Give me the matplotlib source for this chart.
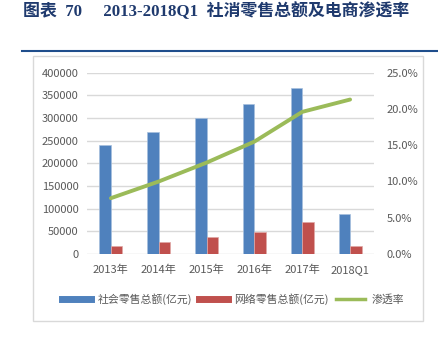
import numpy as np
import matplotlib
matplotlib.use("Agg")
import matplotlib.pyplot as plt
from matplotlib.lines import Line2D
from matplotlib.patches import Rectangle

plt.rcParams['font.family'] = ['Noto Sans CJK SC', 'DejaVu Sans']

categories = ['2013年', '2014年', '2015年', '2016年', '2017年', '2018Q1']
retail_total = [240500, 269800, 299300, 331000, 366200, 88200]
online_retail = [17600, 27200, 38200, 48500, 70600, 17600]
penetration = [0.077, 0.100, 0.126, 0.155, 0.196, 0.213]
left_ticks = [0, 50000, 100000, 150000, 200000, 250000, 300000, 350000, 400000]
right_ticks = [0.0, 0.05, 0.10, 0.15, 0.20, 0.25]
legend_labels = ['社会零售总额(亿元)', '网络零售总额(亿元)', '渗透率']
title_text = '图表  70     2013-2018Q1  社消零售总额及电商渗透率'

BLUE = '#4F81BD'
RED = '#C0504D'
GREEN = '#9BBB59'
GREY_TXT = '#595959'
GRID = '#D9D9D9'
TITLE_C = '#1F3A6E'

W, H = 438, 353
fig = plt.figure(figsize=(W / 100, H / 100), dpi=100)

# outer chart box
fig.patches.append(Rectangle((32.7 / W, 1 - 320.7 / H), 390.6 / W, 264.7 / H,
                             transform=fig.transFigure, fill=False,
                             edgecolor=GRID, linewidth=1.0))
# title rule
fig.add_artist(Line2D([22 / W, 437 / W], [1 - 50.7 / H, 1 - 50.7 / H],
                      transform=fig.transFigure, color='#1F4E8C', linewidth=1.5))
fig.text(23 / W, 1 - 11 / H, title_text, fontsize=12.2, fontweight='bold',
         color=TITLE_C, va='center', ha='left',
         family=['Liberation Serif', 'Noto Sans CJK SC'])

ax = fig.add_axes([87 / W, 1 - 254 / H, (374 - 87) / W, (254 - 72.7) / H])
x = np.arange(len(categories))
bw = 0.24
ax.bar(x - bw / 2, retail_total, width=bw, color=BLUE, edgecolor='#A7C0DE',
       linewidth=0.5, zorder=3)
ax.bar(x + bw / 2, online_retail, width=bw, color=RED, edgecolor='#E0A8A6',
       linewidth=0.5, zorder=3)
ax.set_xlim(-0.5, len(categories) - 0.5)
ax.set_ylim(0, 400000)
ax.set_yticks(left_ticks)
ax.set_yticklabels([str(v) for v in left_ticks])
ax.set_xticks(x)
ax.set_xticklabels(categories)
ax.grid(axis='y', color=GRID, linewidth=1.0, zorder=0)
ax.set_axisbelow(True)
for s in ax.spines.values():
    s.set_visible(False)
ax.tick_params(axis='both', length=0, colors=GREY_TXT, labelsize=8)
ax.tick_params(axis='y', pad=6)
ax.tick_params(axis='x', pad=8)

ax2 = ax.twinx()
ax2.plot(x, penetration, color=GREEN, linewidth=2.8, solid_capstyle='round', zorder=4)
ax2.set_ylim(0, 0.25)
ax2.set_yticks(right_ticks)
ax2.set_yticklabels([f'{v * 100:.1f}%' for v in right_ticks])
for s in ax2.spines.values():
    s.set_visible(False)
ax2.tick_params(axis='y', length=0, colors=GREY_TXT, labelsize=8, pad=9)

handles = [Line2D([], [], color=BLUE, linewidth=5),
           Line2D([], [], color=RED, linewidth=5),
           Line2D([], [], color=GREEN, linewidth=2.5)]
leg = fig.legend(handles, legend_labels, loc='center', ncol=3,
                 bbox_to_anchor=(233 / W, 1 - 299.3 / H), frameon=False,
                 fontsize=7.8, handlelength=2.7, handletextpad=0.6,
                 columnspacing=0.65, labelcolor=GREY_TXT)

fig.savefig('out.png', dpi=100)
